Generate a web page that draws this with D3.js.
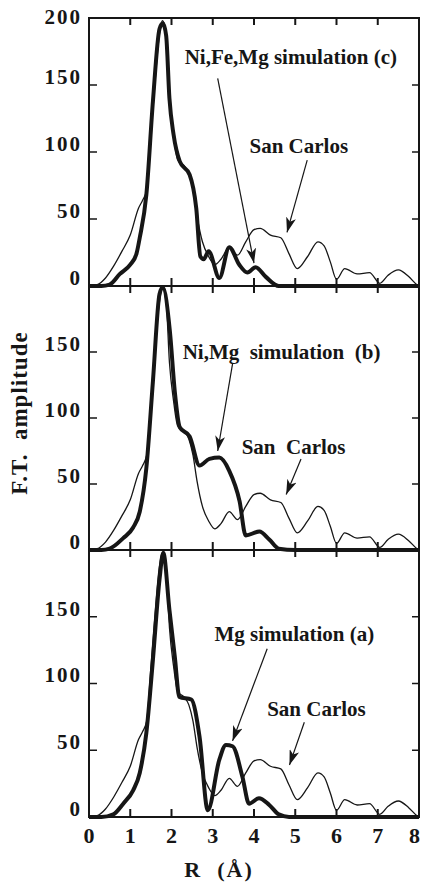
<!DOCTYPE html>
<html lang="en">
<head>
<meta charset="utf-8">
<title>F.T. amplitude - San Carlos vs simulations</title>
<script type="text/javascript" src="https://d3js.org/d3.v7.min.js"></script>
<style type="text/css">
    body { margin: 0; background: #fff; }
    text {
        font-family: "Liberation Serif", "Times New Roman", serif;
        font-weight: bold;
        fill: #161616;
    }
</style>
</head>
<body>
<script type="text/javascript">

// Ticks
var xTicks = [0, 1, 2, 3, 4, 5, 6, 7, 8];
var yTicksTop = [0, 50, 100, 150, 200];
var yTicks = [0, 50, 100, 150];

// San Carlos (thin line, same in the three panels)
var scR   = [0, 0.2, 0.4, 0.6, 0.8, 1.0, 1.2, 1.3, 1.4, 1.5, 1.6, 1.7, 1.78, 1.87, 1.95, 2.05, 2.15, 2.3, 2.42, 2.52, 2.62, 2.75, 2.9, 3.05, 3.2, 3.4, 3.6, 3.8, 4.0, 4.15, 4.4, 4.65, 4.85, 5.05, 5.3, 5.55, 5.7, 5.85, 6.0, 6.2, 6.5, 6.8, 7.05, 7.25, 7.5, 7.75, 7.95, 8.0];
var scAmp = [0, 1, 6, 15, 26, 38, 58, 64, 72, 112, 152, 186, 198, 188, 142, 113, 94, 90, 84, 72, 52, 33, 22, 16, 20, 29, 23, 33, 42, 43, 38, 36, 24, 13, 22, 33, 30, 18, 5, 13, 9, 10, 2, 8, 12, 7, 1, 0];

// Ni,Fe,Mg simulation (c)
var simCR   = [0, 0.3, 0.5, 0.75, 1.0, 1.15, 1.23, 1.39, 1.55, 1.71, 1.79, 1.87, 1.95, 2.05, 2.2, 2.44, 2.6, 2.7, 2.78, 2.9, 3.16, 3.4, 3.64, 3.84, 4.04, 4.28, 4.6, 5, 6, 7, 8];
var simCAmp = [0, 0, 1, 9, 16, 24, 36, 68, 138, 192, 196, 187, 140, 113, 93, 83, 58, 22, 20, 26, 6, 29, 16, 10, 14, 7, 0, 0, 0, 0, 0];

// Ni,Mg simulation (b)
var simBR   = [0, 0.3, 0.5, 0.83, 1.07, 1.23, 1.39, 1.55, 1.71, 1.79, 1.96, 2.08, 2.2, 2.44, 2.68, 2.92, 3.16, 3.4, 3.65, 3.8, 4.13, 4.37, 4.6, 5, 6, 7, 8];
var simBAmp = [0, 0, 1, 9, 17, 29, 62, 128, 194, 199, 166, 120, 93, 86, 64, 69, 70, 60, 37, 11, 14, 8, 1, 0, 0, 0, 0];

// Mg simulation (a)
var simAR   = [0, 0.3, 0.59, 0.83, 1.07, 1.23, 1.39, 1.55, 1.71, 1.8, 1.95, 2.08, 2.19, 2.48, 2.68, 2.88, 3.16, 3.32, 3.48, 3.72, 3.88, 4.12, 4.37, 4.6, 4.85, 6, 7, 8];
var simAAmp = [0, 0, 2, 10, 20, 33, 63, 118, 178, 198, 155, 120, 90, 88, 60, 5, 43, 54, 53, 30, 10, 14, 9, 2, 0, 0, 0, 0];

// Labels and arrows, in data units [R, amplitude]
var labelsC = ["Ni,Fe,Mg simulation (c)", "San Carlos"];
var labelsB = ["Ni,Mg  simulation  (b)", "San  Carlos"];
var labelsA = ["Mg simulation (a)", "San Carlos"];

var w = 421, h = 885;
var x = d3.scaleLinear().domain([0, 8]).range([89, 419]);

var panels = [
    {top: 18,  bottom: 286, r: simCR, amp: simCAmp, yt: yTicksTop, labels: labelsC,
     textPos: [[2.32, 166], [3.89, 99]],
     arrows: [[[3.12, 155], [4.0, 17]], [[5.29, 94], [4.8, 40]]]},
    {top: 286, bottom: 550, r: simBR, amp: simBAmp, yt: yTicks, labels: labelsB,
     textPos: [[2.27, 145], [3.7, 73]],
     arrows: [[[3.48, 141], [3.12, 75]], [[5.14, 69], [4.78, 42]]]},
    {top: 550, bottom: 817, r: simAR, amp: simAAmp, yt: yTicks, labels: labelsA,
     textPos: [[3.04, 132], [4.32, 76]],
     arrows: [[[4.32, 126], [3.48, 57]], [[5.22, 71], [4.86, 39]]]}
];

var svg = d3.select("body").append("svg")
    .attr("width", w)
    .attr("height", h);

// arrow head
svg.append("defs").append("marker")
    .attr("id", "head")
    .attr("markerUnits", "userSpaceOnUse")
    .attr("markerWidth", 16)
    .attr("markerHeight", 10)
    .attr("refX", 15)
    .attr("refY", 5)
    .attr("orient", "auto")
    .append("path")
    .attr("d", "M0,0 L15,5 L0,10 L4,5 Z")
    .attr("fill", "#161616");

panels.forEach(function(p) {
    var y = d3.scaleLinear().domain([0, 200]).range([p.bottom, p.top]);
    var g = svg.append("g");

    var line = d3.line()
        .x(function(d) { return x(d[0]); })
        .y(function(d) { return y(d[1]); })
        .curve(d3.curveMonotoneX);

    // San Carlos
    g.append("path")
        .datum(d3.zip(scR, scAmp))
        .attr("fill", "none")
        .attr("stroke", "#161616")
        .attr("stroke-width", 1.3)
        .attr("d", line);

    // simulation
    g.append("path")
        .datum(d3.zip(p.r, p.amp))
        .attr("fill", "none")
        .attr("stroke", "#161616")
        .attr("stroke-width", 4)
        .attr("stroke-linejoin", "round")
        .attr("d", line);

    // frame
    g.append("rect")
        .attr("x", x(0)).attr("y", p.top)
        .attr("width", x(8) - x(0)).attr("height", p.bottom - p.top)
        .attr("fill", "none")
        .attr("stroke", "#161616")
        .attr("stroke-width", 2);

    // inward ticks
    var inner = xTicks.slice(1, -1);
    g.selectAll(".xb").data(inner).enter().append("line")
        .attr("x1", function(d) { return x(d); }).attr("x2", function(d) { return x(d); })
        .attr("y1", p.bottom).attr("y2", p.bottom - 8)
        .attr("stroke", "#161616").attr("stroke-width", 2);
    g.selectAll(".xt").data(inner).enter().append("line")
        .attr("x1", function(d) { return x(d); }).attr("x2", function(d) { return x(d); })
        .attr("y1", p.top).attr("y2", p.top + 7)
        .attr("stroke", "#161616").attr("stroke-width", 2);
    var ym = [50, 100, 150];
    g.selectAll(".yl").data(ym).enter().append("line")
        .attr("x1", x(0)).attr("x2", x(0) + 8)
        .attr("y1", function(d) { return y(d); }).attr("y2", function(d) { return y(d); })
        .attr("stroke", "#161616").attr("stroke-width", 1.5);
    g.selectAll(".yr").data(ym).enter().append("line")
        .attr("x1", x(8)).attr("x2", x(8) - 7)
        .attr("y1", function(d) { return y(d); }).attr("y2", function(d) { return y(d); })
        .attr("stroke", "#161616").attr("stroke-width", 1.5);

    // y tick labels (top one sits level with the frame)
    g.selectAll(".ylab").data(p.yt).enter().append("text")
        .attr("x", 82)
        .attr("y", function(d) { return d === 200 ? y(d) + 1 : y(d) - 6; })
        .attr("text-anchor", "end")
        .attr("dominant-baseline", "middle")
        .style("font-size", "21px")
        .style("letter-spacing", "2px")
        .text(function(d) { return d; });

    // annotations
    g.selectAll(".ann").data(p.labels).enter().append("text")
        .attr("x", function(d, i) { return x(p.textPos[i][0]); })
        .attr("y", function(d, i) { return y(p.textPos[i][1]); })
        .style("font-size", "21px")
        .style("white-space", "pre")
        .text(function(d) { return d; });

    g.selectAll(".arr").data(p.arrows).enter().append("line")
        .attr("x1", function(d) { return x(d[0][0]); })
        .attr("y1", function(d) { return y(d[0][1]); })
        .attr("x2", function(d) { return x(d[1][0]); })
        .attr("y2", function(d) { return y(d[1][1]); })
        .attr("stroke", "#161616")
        .attr("stroke-width", 1.2)
        .attr("marker-end", "url(#head)");
});

// x tick labels under the last panel (last one kept inside the page)
svg.selectAll(".xlab").data(xTicks).enter().append("text")
    .attr("x", function(d, i) { return i === xTicks.length - 1 ? w - 1 : x(d); })
    .attr("y", 843)
    .attr("text-anchor", function(d, i) { return i === xTicks.length - 1 ? "end" : "middle"; })
    .style("font-size", "22px")
    .text(function(d) { return d; });

svg.append("text")
    .attr("x", 219)
    .attr("y", 877)
    .attr("text-anchor", "middle")
    .style("font-size", "22px")
    .style("letter-spacing", "2px")
    .style("white-space", "pre")
    .text("R  (Å)");

svg.append("text")
    .attr("transform", "translate(22,413) rotate(-90)")
    .attr("text-anchor", "middle")
    .attr("dominant-baseline", "middle")
    .style("font-size", "23px")
    .style("letter-spacing", "1px")
    .style("white-space", "pre")
    .text("F.T.  amplitude");

</script>
</body>
</html>
